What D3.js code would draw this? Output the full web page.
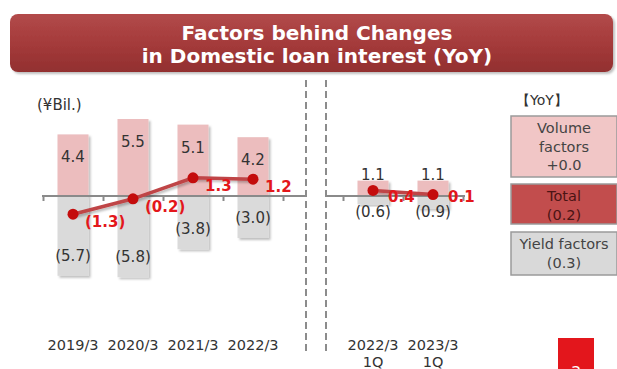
<!DOCTYPE html>
<html>
<head>
<meta charset="utf-8">
<script src="https://cdn.jsdelivr.net/npm/d3@7"></script>
<style>
  body { margin: 0; background: #fff; }
  svg { display: block; font-family: "DejaVu Sans", Verdana, sans-serif; }
</style>
</head>
<body>
<div id="chart"></div>
<script>
// annual (left panel)
const categoriesA = ["2019/3", "2020/3", "2021/3", "2022/3"];
const volumeA = [4.4, 5.5, 5.1, 4.2];
const yieldA = [-5.7, -5.8, -3.8, -3.0];
const totalA = [-1.3, -0.2, 1.3, 1.2];

// 1Q (right panel)
const categoriesB = ["2022/3 1Q", "2023/3 1Q"];
const volumeB = [1.1, 1.1];
const yieldB = [-0.6, -0.9];
const totalB = [0.4, 0.1];

// legend (YoY)
const legendLabels = [["Volume", "factors"], ["Total"], ["Yield factors"]];
const legendValues = ["+0.0", "(0.2)", "(0.3)"];

const width = 617, height = 369;
const pink = "#ecbdbe", grey = "#dadada", lineRed = "#bf4446", dotRed = "#c40c0c", labelRed = "#e3171b";

const fmt = v => v < 0 ? "(" + d3.format(".1f")(-v) + ")" : d3.format(".1f")(v);

const svg = d3.select("#chart").append("svg")
    .attr("width", width)
    .attr("height", height);

const defs = svg.append("defs");
let sh = defs.append("filter").attr("id", "shadow").attr("x", "-20%").attr("y", "-20%").attr("width", "150%").attr("height", "150%");
sh.append("feDropShadow").attr("dx", 2).attr("dy", 2).attr("stdDeviation", 1.2).attr("flood-color", "#000").attr("flood-opacity", 0.25);
let grad = defs.append("linearGradient").attr("id", "banner").attr("x1", 0).attr("y1", 0).attr("x2", 0).attr("y2", 1);
grad.append("stop").attr("offset", "0%").attr("stop-color", "#b24a4a");
grad.append("stop").attr("offset", "50%").attr("stop-color", "#a53b3b");
grad.append("stop").attr("offset", "100%").attr("stop-color", "#922f2f");

// title banner
svg.append("rect")
    .attr("x", 10).attr("y", 14).attr("width", 603).attr("height", 58)
    .attr("rx", 8)
    .attr("fill", "url(#banner)")
    .attr("filter", "url(#shadow)");

svg.append("text")
    .attr("x", 317).attr("text-anchor", "middle")
    .attr("fill", "#fff").attr("font-size", 20).attr("font-weight", "bold")
    .selectAll("tspan")
    .data(["Factors behind Changes", "in Domestic loan interest (YoY)"])
    .join("tspan")
    .attr("x", 317)
    .attr("y", (d, i) => 40 + i * 23)
    .text(d => d);

// unit
svg.append("text")
    .attr("x", 37).attr("y", 110)
    .attr("font-size", 15).attr("fill", "#333")
    .text("(¥Bil.)");

// shared value scale
const y = d3.scaleLinear()
    .domain([-6, 8])
    .range([280, 84]);

function drawPanel(categories, volume, yld, total, range, axisRange, small) {
    let x = d3.scaleBand()
        .domain(categories)
        .range(range)
        .paddingInner(0.483)
        .paddingOuter(0.2415);

    let rows = categories.map((c, i) => ({ c: c, v: volume[i], y: yld[i], t: total[i] }));
    let g = svg.append("g");

    // bars
    g.selectAll(".vol")
        .data(rows)
        .join("rect")
        .attr("class", "vol")
        .attr("x", d => x(d.c))
        .attr("y", d => y(d.v))
        .attr("width", x.bandwidth())
        .attr("height", d => y(0) - y(d.v))
        .attr("fill", pink)
        .attr("filter", "url(#shadow)");

    g.selectAll(".yld")
        .data(rows)
        .join("rect")
        .attr("class", "yld")
        .attr("x", d => x(d.c))
        .attr("y", y(0))
        .attr("width", x.bandwidth())
        .attr("height", d => y(d.y) - y(0))
        .attr("fill", grey)
        .attr("filter", "url(#shadow)");

    // axis: line + ticks at band boundaries
    let tickScale = d3.scaleLinear().domain([0, categories.length]).range(range);
    g.append("line")
        .attr("x1", axisRange[0]).attr("x2", axisRange[1])
        .attr("y1", y(0)).attr("y2", y(0))
        .attr("stroke", "#8a8a8a").attr("stroke-width", 2);
    let ax = g.append("g")
        .attr("transform", "translate(0," + y(0) + ")")
        .call(d3.axisBottom(tickScale)
            .tickValues(d3.range(categories.length + 1))
            .tickSize(5)
            .tickSizeOuter(0)
            .tickFormat(""));
    ax.select(".domain").remove();
    ax.selectAll("line").attr("stroke", "#8a8a8a").attr("stroke-width", 2);

    // bar labels
    g.selectAll(".vlab")
        .data(rows)
        .join("text")
        .attr("class", "vlab")
        .attr("x", d => x(d.c) + x.bandwidth() / 2)
        .attr("y", d => small ? y(d.v) - 1 : y(d.v) + 28)
        .attr("text-anchor", "middle")
        .attr("font-size", 15).attr("fill", "#333")
        .text(d => fmt(d.v));

    g.selectAll(".ylab")
        .data(rows)
        .join("text")
        .attr("class", "ylab")
        .attr("x", d => x(d.c) + x.bandwidth() / 2)
        .attr("y", d => small ? y(0) + 21 : y(d.y) - 15)
        .attr("text-anchor", "middle")
        .attr("font-size", 15).attr("fill", "#333")
        .text(d => fmt(d.y));

    // total line
    let line = d3.line()
        .x(d => x(d.c) + x.bandwidth() / 2)
        .y(d => y(d.t));

    g.append("path")
        .datum(rows)
        .attr("d", line)
        .attr("fill", "none")
        .attr("stroke", lineRed)
        .attr("stroke-width", 3.5)
        .attr("filter", "url(#shadow)");

    g.selectAll(".dot")
        .data(rows)
        .join("circle")
        .attr("class", "dot")
        .attr("cx", d => x(d.c) + x.bandwidth() / 2)
        .attr("cy", d => y(d.t))
        .attr("r", 5.5)
        .attr("fill", dotRed);

    // small panel: labels sit on the zero line, right of the dot
    g.selectAll(".tlab")
        .data(rows)
        .join("text")
        .attr("class", "tlab")
        .attr("x", d => x(d.c) + x.bandwidth() / 2 + (small ? 15 : 12))
        .attr("y", d => small ? y(0) + 6 : y(d.t) + 13)
        .attr("font-size", 15).attr("font-weight", "bold")
        .attr("fill", labelRed)
        .text(d => fmt(d.t));

    // category labels
    let cat = g.selectAll(".cat")
        .data(rows)
        .join("text")
        .attr("class", "cat")
        .attr("text-anchor", "middle")
        .attr("font-size", 14.5).attr("fill", "#333");
    cat.selectAll("tspan")
        .data(d => d.c.split(" ").map(s => ({ s: s, cx: x(d.c) + x.bandwidth() / 2 })))
        .join("tspan")
        .attr("x", d => d.cx)
        .attr("y", (d, i) => 350 + i * 17)
        .text(d => d.s);
}

drawPanel(categoriesA, volumeA, yieldA, totalA, [43, 283], [42, 305], false);
drawPanel(categoriesB, volumeB, yieldB, totalB, [343, 463], [326, 465], true);

// dashed separators
svg.selectAll(".sep")
    .data([306, 326])
    .join("line")
    .attr("class", "sep")
    .attr("x1", d => d).attr("x2", d => d)
    .attr("y1", 80).attr("y2", 354)
    .attr("stroke", "#8c8c8c").attr("stroke-width", 2)
    .attr("stroke-dasharray", "7,4");

// legend
svg.append("text")
    .attr("x", 542).attr("y", 105)
    .attr("text-anchor", "middle")
    .attr("font-size", 14).attr("fill", "#333")
    .text("【YoY】");

const legendBoxes = [
    { y: 116, h: 61, fill: "#f1c6c6", text: "#444" },
    { y: 184, h: 40, fill: "#c24d4d", text: "#4a1414" },
    { y: 232, h: 43, fill: "#d9d9d9", text: "#444" }
];

legendBoxes.forEach((b, i) => {
    svg.append("rect")
        .attr("x", 511).attr("y", b.y)
        .attr("width", 106).attr("height", b.h)
        .attr("fill", b.fill)
        .attr("stroke", "#9a9a9a").attr("stroke-width", 1.5);
    let lines = legendLabels[i].concat([legendValues[i]]);
    svg.append("text")
        .attr("text-anchor", "middle")
        .attr("font-size", 14.5).attr("fill", b.text)
        .selectAll("tspan")
        .data(lines)
        .join("tspan")
        .attr("x", 564)
        .attr("y", (d, j) => b.y + 17 + j * 18.5)
        .text(d => d);
});

// page number
svg.append("rect")
    .attr("x", 558).attr("y", 338)
    .attr("width", 36).attr("height", 40)
    .attr("fill", "#e3161c");
svg.append("text")
    .attr("x", 576).attr("y", 378)
    .attr("text-anchor", "middle")
    .attr("font-size", 16).attr("fill", "#fff")
    .text("3");
</script>
</body>
</html>
